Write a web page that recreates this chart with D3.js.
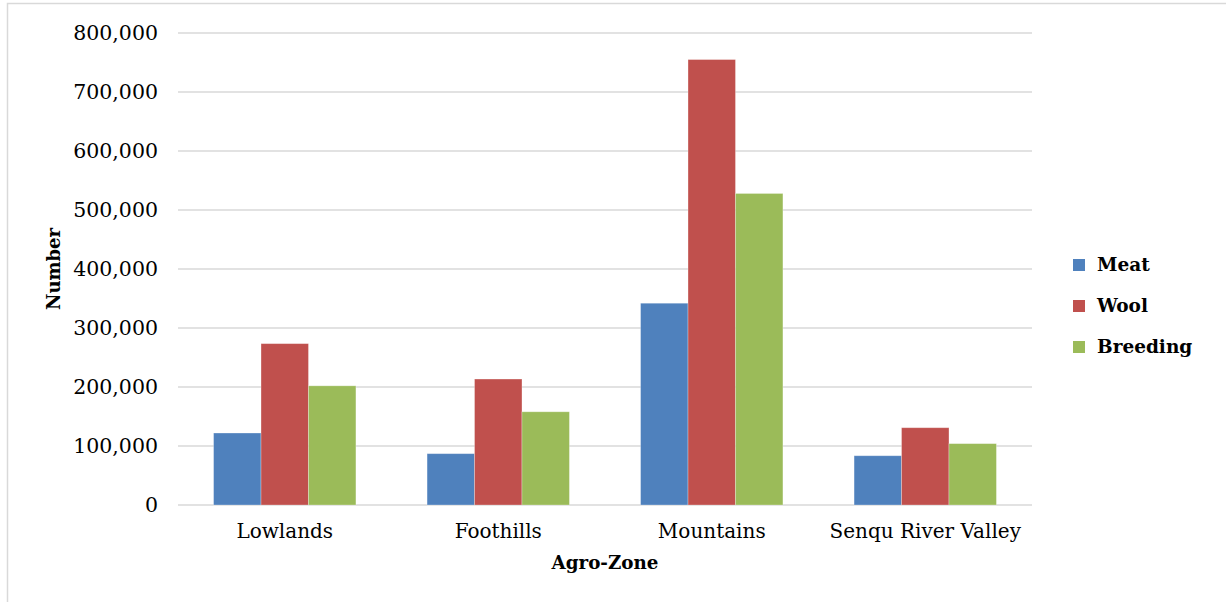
<!DOCTYPE html>
<html>
<head>
<meta charset="utf-8">
<script src="https://cdn.jsdelivr.net/npm/d3@7"></script>
<style>
  html, body { margin: 0; padding: 0; background: #fff; }
  svg { display: block; }
</style>
</head>
<body>
<svg id="chart" width="1226" height="602"></svg>
<script>
const categories = ["Lowlands", "Foothills", "Mountains", "Senqu River Valley"];
const seriesNames = ["Meat", "Wool", "Breeding"];
const meat = [122000, 87000, 342000, 83500];
const wool = [273500, 213500, 755000, 131000];
const breeding = [202000, 158000, 528000, 104000];
const yTicks = [0, 100000, 200000, 300000, 400000, 500000, 600000, 700000, 800000];
const colors = ["#4F81BD", "#C0504D", "#9BBB59"];

(function () {
const seriesValues = [meat, wool, breeding];
const svg = d3.select("#chart");
const serif = "'DejaVu Serif', serif";

const plotLeft = 178, plotRight = 1032, plotTop = 33, plotBottom = 505;

// chart border (partially visible)
svg.append("path")
  .attr("d", "M7.5,602 L7.5,3.5 L1226,3.5")
  .attr("fill", "none").attr("stroke", "#d9d9d9").attr("stroke-width", 1.5);

const x0 = d3.scaleBand().domain(categories).range([plotLeft, plotRight]).paddingInner(0).paddingOuter(0);
const x1 = d3.scaleBand().domain(seriesNames).range([0, x0.bandwidth()]).paddingInner(0).paddingOuter(0.75);
const y = d3.scaleLinear().domain([0, 800000]).range([plotBottom, plotTop]);

// gridlines
svg.append("g").selectAll("line").data(yTicks).join("line")
  .attr("x1", plotLeft).attr("x2", plotRight)
  .attr("y1", d => y(d)).attr("y2", d => y(d))
  .attr("stroke", "#d9d9d9").attr("stroke-width", 1.6);

// y axis labels
const fmt = d3.format(",");
const yAxis = d3.axisLeft(y).tickValues(yTicks).tickFormat(fmt).tickSize(0).tickPadding(20);
const gy = svg.append("g").attr("transform", `translate(${plotLeft},0)`).call(yAxis);
gy.select(".domain").remove();
gy.selectAll("text").attr("font-family", serif).attr("font-size", 20.5).attr("fill", "#000");

// bars
const groups = svg.append("g").selectAll("g").data(categories).join("g")
  .attr("transform", c => `translate(${x0(c)},0)`);
groups.selectAll("rect")
  .data((c, i) => seriesNames.map((s, j) => ({ s, j, v: seriesValues[j][i] })))
  .join("rect")
  .attr("x", d => x1(d.s))
  .attr("width", x1.bandwidth())
  .attr("y", d => y(d.v))
  .attr("height", d => y(0) - y(d.v))
  .attr("fill", d => colors[d.j])
  .attr("stroke", "rgba(255,255,255,0.35)").attr("stroke-width", 0.8);

// x axis labels
const xAxis = d3.axisBottom(x0).tickSize(0).tickPadding(19);
const gx = svg.append("g").attr("transform", `translate(0,${plotBottom})`).call(xAxis);
gx.select(".domain").remove();
gx.selectAll("text").attr("font-family", serif).attr("font-size", 20).attr("fill", "#000");

// axis titles
svg.append("text")
  .attr("x", 605).attr("y", 569)
  .attr("text-anchor", "middle")
  .attr("font-family", serif).attr("font-weight", "bold").attr("font-size", 18.3)
  .text("Agro-Zone");

svg.append("text")
  .attr("transform", "translate(60,269) rotate(-90)")
  .attr("text-anchor", "middle")
  .attr("font-family", serif).attr("font-weight", "bold").attr("font-size", 18)
  .text("Number");

// legend
const legend = svg.append("g").selectAll("g").data(seriesNames).join("g")
  .attr("transform", (d, i) => `translate(1073,${265 + i * 41})`);
legend.append("rect")
  .attr("x", 0).attr("y", -6).attr("width", 12).attr("height", 12)
  .attr("fill", (d, i) => colors[i]);
legend.append("text")
  .attr("x", 24).attr("y", 0).attr("dy", "0.35em")
  .attr("font-family", serif).attr("font-weight", "bold").attr("font-size", 18.5)
  .text(d => d);
})();
</script>
</body>
</html>
